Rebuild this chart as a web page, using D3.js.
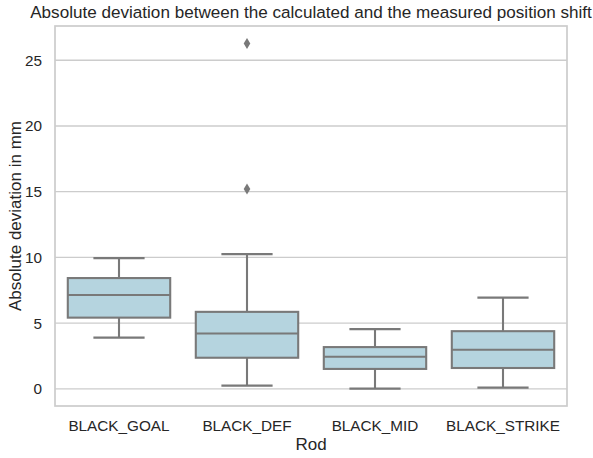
<!DOCTYPE html>
<html>
<head>
<meta charset="utf-8">
<script src="https://cdn.jsdelivr.net/npm/d3@7"></script>
<style>
  body { margin: 0; background: #fff; }
  svg text { font-family: "Liberation Sans", Arial, sans-serif; fill: #262626; }
</style>
</head>
<body>
<div class="container"></div>
<script>
// box summary values (mm)
const rods = ["BLACK_GOAL", "BLACK_DEF", "BLACK_MID", "BLACK_STRIKE"]
const whiskerLow = [3.9, 0.25, 0.02, 0.1]
const q1 = [5.42, 2.37, 1.52, 1.59]
const median = [7.14, 4.21, 2.45, 2.98]
const q3 = [8.43, 5.86, 3.18, 4.39]
const whiskerHigh = [9.95, 10.25, 4.55, 6.94]
const outliers = [[], [15.2, 26.26], [], []]
const yTicks = [0, 5, 10, 15, 20, 25]

const w = 593
const h = 458
const margin = { top: 26, right: 26, bottom: 52, left: 55 }

const boxFill = "#b5d4df"
const lineCol = "#797979"

const svg = d3.select(".container")
  .append("svg")
  .attr("width", w)
  .attr("height", h)

const xScale = d3.scaleBand().domain(rods).range([margin.left, w - margin.right])
const yScale = d3.scaleLinear().domain([-1.3, 27.6]).range([h - margin.bottom, margin.top])

// grid
svg.append("g")
  .selectAll("line")
  .data(yTicks)
  .enter()
  .append("line")
  .attr("x1", margin.left)
  .attr("x2", w - margin.right)
  .attr("y1", d => yScale(d))
  .attr("y2", d => yScale(d))
  .attr("stroke", "#cccccc")
  .attr("stroke-width", 1.4)

// y axis labels
const yAxis = d3.axisLeft(yScale).tickValues(yTicks).tickSize(0).tickPadding(13)
svg.append("g")
  .attr("transform", "translate(" + margin.left + ",0)")
  .call(yAxis)
  .call(g => g.select(".domain").remove())
  .selectAll("text")
  .style("font-size", "15.3px")
  .attr("fill", "#262626")

const xAxis = d3.axisBottom(xScale).tickSize(0).tickPadding(14)
svg.append("g")
  .attr("transform", "translate(0," + (h - margin.bottom) + ")")
  .call(xAxis)
  .call(g => g.select(".domain").remove())
  .selectAll("text")
  .style("font-size", "15.3px")
  .attr("fill", "#262626")

const bw = xScale.bandwidth() * 0.8
const boxes = svg.append("g")
  .selectAll("g")
  .data(rods)
  .enter()
  .append("g")

const cx = d => xScale(d) + xScale.bandwidth() / 2

// whiskers
boxes.append("line")
  .attr("x1", cx).attr("x2", cx)
  .attr("y1", (d, i) => yScale(whiskerLow[i]))
  .attr("y2", (d, i) => yScale(q1[i]))
  .attr("stroke", lineCol).attr("stroke-width", 2.1)
boxes.append("line")
  .attr("x1", cx).attr("x2", cx)
  .attr("y1", (d, i) => yScale(q3[i]))
  .attr("y2", (d, i) => yScale(whiskerHigh[i]))
  .attr("stroke", lineCol).attr("stroke-width", 2.1)

// caps
boxes.append("line")
  .attr("x1", d => cx(d) - bw / 4).attr("x2", d => cx(d) + bw / 4)
  .attr("y1", (d, i) => yScale(whiskerLow[i]))
  .attr("y2", (d, i) => yScale(whiskerLow[i]))
  .attr("stroke", lineCol).attr("stroke-width", 2.1)
boxes.append("line")
  .attr("x1", d => cx(d) - bw / 4).attr("x2", d => cx(d) + bw / 4)
  .attr("y1", (d, i) => yScale(whiskerHigh[i]))
  .attr("y2", (d, i) => yScale(whiskerHigh[i]))
  .attr("stroke", lineCol).attr("stroke-width", 2.1)

// box
boxes.append("rect")
  .attr("x", d => cx(d) - bw / 2)
  .attr("width", bw)
  .attr("y", (d, i) => yScale(q3[i]))
  .attr("height", (d, i) => yScale(q1[i]) - yScale(q3[i]))
  .attr("fill", boxFill)
  .attr("stroke", lineCol)
  .attr("stroke-width", 2.1)

// median
boxes.append("line")
  .attr("x1", d => cx(d) - bw / 2).attr("x2", d => cx(d) + bw / 2)
  .attr("y1", (d, i) => yScale(median[i]))
  .attr("y2", (d, i) => yScale(median[i]))
  .attr("stroke", lineCol).attr("stroke-width", 2.1)

// fliers (thin diamonds)
const fliers = []
rods.forEach((r, i) => outliers[i].forEach(v => fliers.push({ rod: r, v: v })))
svg.append("g")
  .selectAll("path")
  .data(fliers)
  .enter()
  .append("path")
  .attr("d", "M0,-5.5L3.3,0L0,5.5L-3.3,0Z")
  .attr("transform", d => "translate(" + cx(d.rod) + "," + yScale(d.v) + ")")
  .attr("fill", lineCol)

// frame
svg.append("rect")
  .attr("x", margin.left)
  .attr("y", margin.top)
  .attr("width", w - margin.left - margin.right)
  .attr("height", h - margin.top - margin.bottom)
  .attr("fill", "none")
  .attr("stroke", "#cccccc")
  .attr("stroke-width", 1.7)

// title and axis labels
svg.append("text")
  .attr("x", (margin.left + w - margin.right) / 2)
  .attr("y", 18)
  .style("text-anchor", "middle")
  .style("font-size", "17.1px")
  .text("Absolute deviation between the calculated and the measured position shift")

svg.append("text")
  .attr("x", (margin.left + w - margin.right) / 2)
  .attr("y", 450)
  .style("text-anchor", "middle")
  .style("font-size", "17px")
  .text("Rod")

svg.append("text")
  .attr("transform", "rotate(-90)")
  .attr("x", -(margin.top + h - margin.bottom) / 2)
  .attr("y", 21)
  .style("text-anchor", "middle")
  .style("font-size", "17px")
  .text("Absolute deviation in mm")
</script>
</body>
</html>
